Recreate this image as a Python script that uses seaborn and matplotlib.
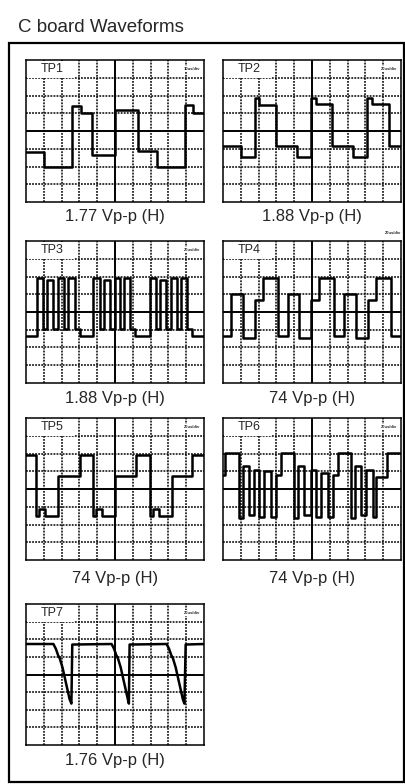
import numpy as np
import pandas as pd
import matplotlib.pyplot as plt
import seaborn as sns
from matplotlib.patches import Rectangle

sns.set_style("white")
plt.rcParams["font.family"] = ["Liberation Sans", "DejaVu Sans"]

# waveform data, in scope divisions (x: 0-10, y: 0-8)
# step traces: breakpoints and the level held from each breakpoint
tp1_t = [0, 1.0, 2.59, 3.07, 3.7, 5.0, 6.28, 7.34, 8.92, 9.39, 10]
tp1_v = [2.83, 1.95, 5.4, 5.02, 2.63, 5.21, 2.87, 1.99, 5.46, 5.02, 5.02]

tp2_t = [0, 1.03, 1.77, 2.01, 2.99, 4.14, 4.94, 5.22, 6.1, 7.31, 8.08, 8.36, 9.33, 10]
tp2_v = [3.16, 2.51, 5.86, 5.49, 3.16, 2.55, 5.86, 5.5, 3.16, 2.51, 5.86, 5.5, 3.16, 3.16]

tp3_t = [0, 0.6, 0.94, 1.17, 1.51, 1.79, 2.11, 2.36, 2.74, 3.02,
         3.77, 4.15, 4.38, 4.72, 5.0, 5.28, 5.51, 5.85, 6.13,
         6.98, 7.32, 7.55, 7.89, 8.15, 8.49, 8.68, 9.02, 9.34, 10]
tp3_v = [2.66, 5.94, 3.04, 5.8, 3.04, 5.94, 3.04, 5.9, 3.04, 2.66,
         5.94, 3.04, 5.8, 3.04, 5.94, 3.04, 5.9, 3.04, 2.66,
         5.94, 3.04, 5.8, 3.04, 5.94, 3.04, 5.9, 3.04, 2.66, 2.66]

tp4_t = [0, 0.47, 1.12, 1.77, 2.24, 3.08, 3.64, 4.29, 4.94, 5.41, 6.25, 6.81, 7.46, 8.12, 8.58, 9.42, 10]
tp4_v = [2.63, 4.99, 2.54, 4.70, 5.93, 2.63, 4.99, 2.54, 4.70, 5.93, 2.63, 4.99, 2.54, 4.70, 5.93, 2.63, 2.63]

tp5_t = [0, 0.56, 0.75, 1.07, 1.77, 3.05, 3.76, 3.95, 4.27, 5.02, 6.2, 6.95, 7.14, 7.46, 8.21, 9.34, 10]
tp5_v = [5.9, 2.46, 2.85, 2.5, 4.74, 5.9, 2.46, 2.85, 2.5, 4.74, 5.9, 2.46, 2.85, 2.5, 4.74, 5.9, 5.9]

tp6_t = [0, 0.09, 0.9, 1.12, 1.46, 1.72, 2.05, 2.33, 2.71, 2.99, 3.26, 4.01, 4.2, 4.57,
         4.94, 5.22, 5.5, 5.88, 6.19, 6.44, 7.18, 7.41, 7.74, 8.02, 8.4, 8.58, 9.24, 10]
tp6_v = [4.8, 6.02, 2.35, 5.27, 2.54, 5.08, 2.44, 4.99, 2.44, 4.8, 6.02, 2.35, 5.27, 2.54,
         5.08, 2.44, 4.89, 2.44, 4.8, 6.02, 2.35, 5.27, 2.54, 5.08, 2.44, 4.7, 6.02, 6.02]

# TP7 is a sawtooth-like trace, plain vertices
tp7_x = [0, 1.54, 1.68, 1.8, 1.9, 2.05, 2.25, 2.45, 2.55, 2.6,
         4.81, 4.95, 5.07, 5.17, 5.32, 5.52, 5.72, 5.78, 5.82,
         7.9, 8.04, 8.16, 8.26, 8.41, 8.61, 8.81, 8.9, 8.97, 10]
tp7_y = [5.73, 5.73, 5.45, 5.1, 4.9, 4.4, 3.5, 2.6, 2.35, 5.7,
         5.73, 5.45, 5.1, 4.9, 4.4, 3.5, 2.6, 2.35, 5.7,
         5.73, 5.45, 5.1, 4.9, 4.4, 3.5, 2.6, 2.35, 5.7, 5.73]

names = ["TP1", "TP2", "TP3", "TP4", "TP5", "TP6", "TP7"]
captions = ["1.77 Vp-p (H)", "1.88 Vp-p (H)", "1.88 Vp-p (H)", "74 Vp-p (H)",
            "74 Vp-p (H)", "74 Vp-p (H)", "1.76 Vp-p (H)"]
timebase = ["10us/div", "20us/div", "20us/div", "20us/div",
            "20us/div", "20us/div", "20us/div"]

W, H = 406, 784
fig = plt.figure(figsize=(W / 100, H / 100), dpi=100)

# outer frame + title
fig.patches.append(Rectangle((9 / W, 1 - 782 / H), 395 / W, 739 / H,
                             transform=fig.transFigure, fill=False,
                             lw=1.6, ec="black"))
fig.text(18 / W, 1 - 27 / H, "C board Waveforms", fontsize=13.5,
         ha="left", va="center")

# panel boxes in pixels: left, top, right, bottom
cols = [(26, 204), (223, 401)]
rows = [(60, 202), (241, 383), (418, 560), (604, 745)]
cap_y = [216, 398, 579, 760]


def panel(i):
    r, c = divmod(i, 2)
    l, rr = cols[c]
    t, b = rows[r]
    ax = fig.add_axes([l / W, 1 - b / H, (rr - l) / W, (b - t) / H])
    ax.set_xlim(0, 10)
    ax.set_ylim(0, 8)
    ax.set_xticks([])
    ax.set_yticks([])
    for s in ax.spines.values():
        s.set_color("black")
        s.set_linewidth(1.1)
    for gx in range(1, 10):
        if gx == 5:
            ax.axvline(gx, color="black", lw=1.4, zorder=1)
        else:
            ax.axvline(gx, color="black", lw=1.1, ls=(0, (1.2, 0.8)), zorder=1)
    for gy in range(1, 8):
        if gy == 4:
            ax.axhline(gy, color="black", lw=1.4, zorder=1)
        else:
            ax.axhline(gy, color="black", lw=1.1, ls=(0, (1.2, 0.8)), zorder=1)
    # label box hides the grid behind the name
    ax.add_patch(Rectangle((0.05, 7.0), 2.65, 0.95, fc="white", ec="none", zorder=3))
    ax.text(0.85, 7.5, names[i], fontsize=9, ha="left", va="center", zorder=5)
    if names[i] == "TP4":
        ax.text(10, 8.45, timebase[i], fontsize=3, fontweight="bold",
                ha="right", va="center", clip_on=False)
    else:
        ax.text(9.8, 7.5, timebase[i], fontsize=3, fontweight="bold",
                ha="right", va="center", zorder=5,
                bbox=dict(fc="white", ec="none", pad=0.5))
    fig.text((l + rr) / 2 / W, 1 - cap_y[r] / H, captions[i], fontsize=12,
             ha="center", va="center")
    return ax


steps = [(tp1_t, tp1_v), (tp2_t, tp2_v), (tp3_t, tp3_v), (tp4_t, tp4_v),
         (tp5_t, tp5_v), (tp6_t, tp6_v)]

for i, (t, v) in enumerate(steps):
    ax = panel(i)
    df = pd.DataFrame({"t": t, "v": v})
    sns.lineplot(data=df, x="t", y="v", estimator=None, sort=False,
                 drawstyle="steps-post", color="black", lw=1.8, ax=ax, zorder=4)
    ax.set_xlabel("")
    ax.set_ylabel("")
    ax.set_xlim(0, 10)
    ax.set_ylim(0, 8)

ax = panel(6)
df7 = pd.DataFrame({"t": tp7_x, "v": tp7_y})
sns.lineplot(data=df7, x="t", y="v", estimator=None, sort=False,
             color="black", lw=1.8, ax=ax, zorder=4)
ax.set_xlabel("")
ax.set_ylabel("")
ax.set_xlim(0, 10)
ax.set_ylim(0, 8)

fig.savefig("out.png", dpi=100)
